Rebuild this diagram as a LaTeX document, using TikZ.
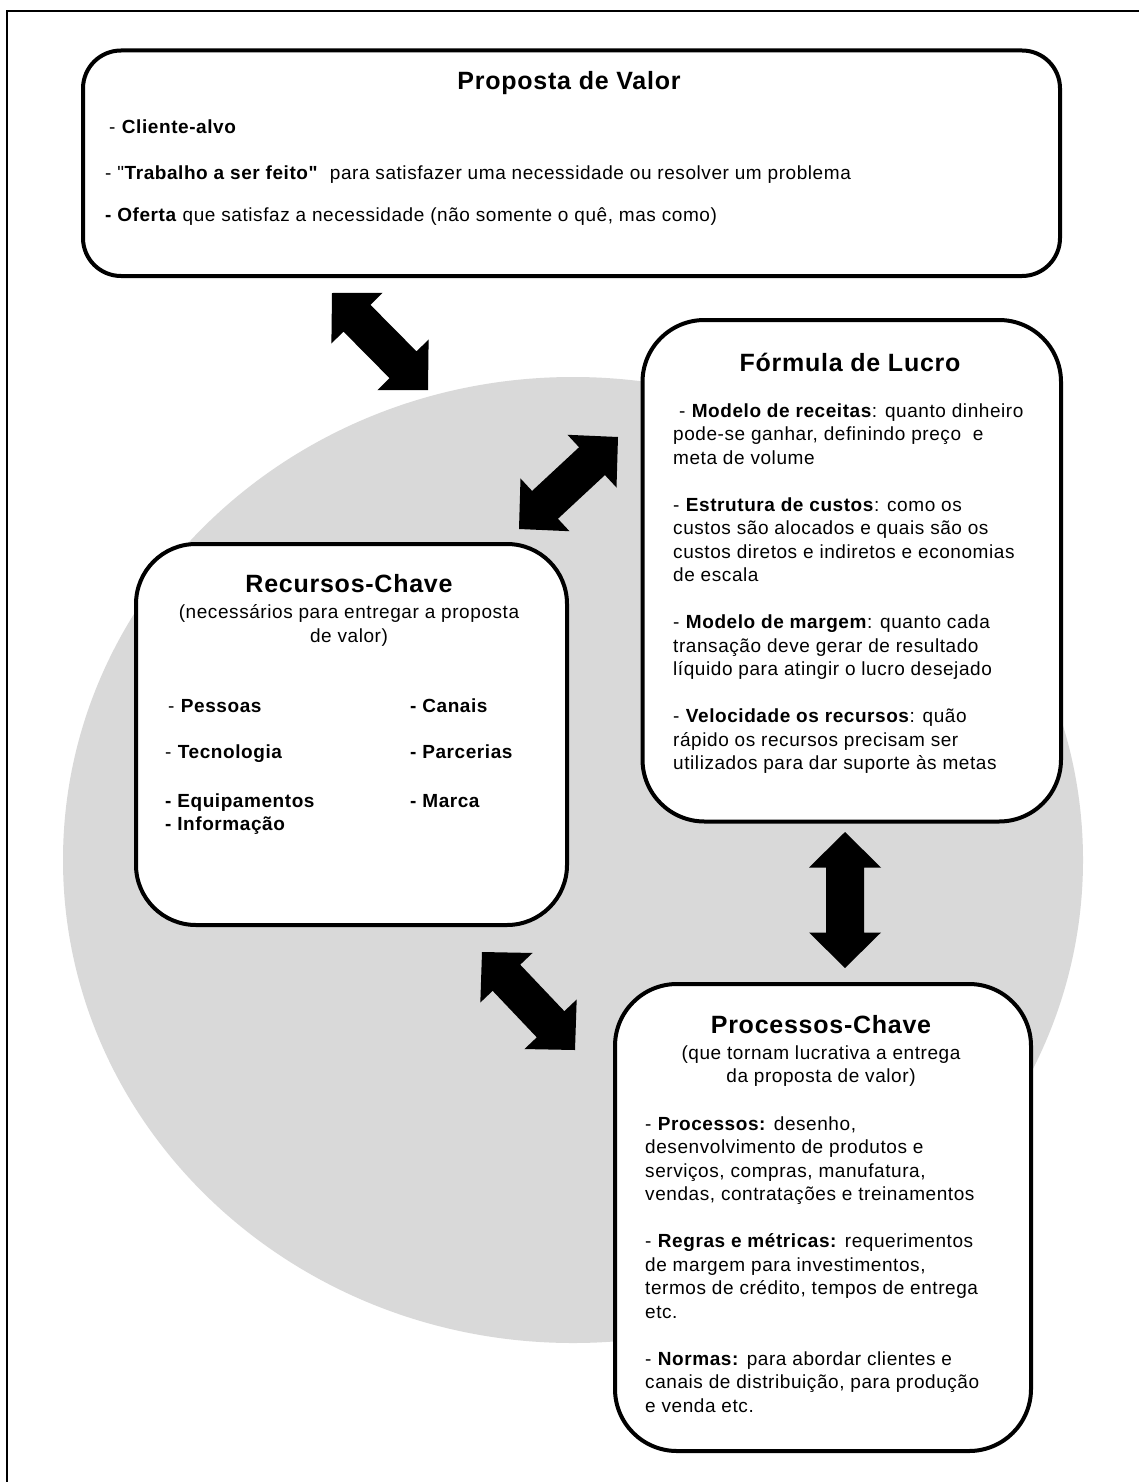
\documentclass[tikz,border=0pt]{standalone}
\usepackage{fontspec}
\setmainfont{Liberation Sans}[LetterSpace=3.0, Ligatures=TeXOff]
\usetikzlibrary{calc,shapes.geometric}

\newcommand\bodyfont{\fontsize{19pt}{23.5pt}\selectfont}
\newcommand\headfont{\fontsize{25pt}{30pt}\selectfont\bfseries}
\newcommand\leftlines[1]{\begin{tabular}[t]{@{}l@{}}#1\end{tabular}}
\newcommand\midlines[1]{\begin{tabular}[t]{@{}c@{}}#1\end{tabular}}

% double-headed block arrow between two named tips
\newcommand\blockarrow[2]{%
  \coordinate (ba1) at ($(#1)!35.5pt!(#2)$);
  \coordinate (ba2) at ($(#2)!35.5pt!(#1)$);
  \fill[arrowfill] (#1)
    -- ($(ba1)!36pt!90:(#2)$) -- ($(ba1)!19pt!90:(#2)$)
    -- ($(ba2)!19pt!-90:(#1)$) -- ($(ba2)!36pt!-90:(#1)$)
    -- (#2)
    -- ($(ba2)!36pt!90:(#1)$) -- ($(ba2)!19pt!90:(#1)$)
    -- ($(ba1)!19pt!-90:(#2)$) -- ($(ba1)!36pt!-90:(#2)$)
    -- cycle;}

\tikzset{
  panel/.style={draw=black, line width=4pt, fill=white, rounded corners=#1,
    inner sep=0pt, anchor=north west},
  core/.style={ellipse, fill=discgray, draw=none, inner sep=0pt},
  arrowfill/.style={fill=black},
  body/.style={inner sep=0pt, anchor=base west, font=\bodyfont},
  head/.style={inner sep=0pt, anchor=base, font=\headfont},
  sub/.style={inner sep=0pt, anchor=base, font=\bodyfont},
}
\definecolor{discgray}{RGB}{217,217,217}

\begin{document}
\begin{tikzpicture}[x=1pt, y=-1pt]
\useasboundingbox (0,0) rectangle (1139,1482);
\fill[white] (0,0) rectangle (1139,1482);

% page frame (top and left edges)
\draw[line width=2.3pt] (7,1490) -- (7,11) -- (1150,11);

% grey disc behind the three lower panels
\node[core, minimum width=1020pt, minimum height=966pt] (disc) at (573,860) {};

% panels
\node[panel=38pt, minimum width=977pt, minimum height=225.5pt] (pv) at (81,48.5) {};
\node[panel=62pt, minimum width=418.5pt, minimum height=501.5pt] (fl) at (640.5,318) {};
\node[panel=60pt, minimum width=431pt, minimum height=381pt] (rc) at (134,542) {};
\node[panel=62pt, minimum width=416pt, minimum height=467pt] (pc) at (613,982) {};

% arrow tips
\coordinate (a1s) at (332,293);
\coordinate (a1e) at (428,390);
\coordinate (a2s) at (519,529);
\coordinate (a2e) at (618,437);
\coordinate (a3s) at (845,832);
\coordinate (a3e) at (845,968);
\coordinate (a4s) at (482,952);
\coordinate (a4e) at (575,1050);
\blockarrow{a1s}{a1e}
\blockarrow{a2s}{a2e}
\blockarrow{a3s}{a3e}
\blockarrow{a4s}{a4e}

% Proposta de Valor
\node[head] (pvT) at (569,90) {Proposta de Valor};
\node[body] (pv1) at (109,134) {- \textbf{Cliente-alvo}};
\node[body] (pv2) at (105,180) {- "\textbf{Trabalho a ser feito"}\ \ para satisfazer uma necessidade ou resolver um problema};
\node[body] (pv3) at (105,222) {\textbf{- Oferta} que satisfaz a necessidade (não somente o quê, mas como)};

% Fórmula de Lucro
\node[head] (flT) at (850,371) {Fórmula de Lucro};
\node[body] (fl1) at (673,417) {\leftlines{%
 \ - \textbf{Modelo de receitas}: quanto dinheiro\\
 pode-se ganhar, definindo preço\ \ e\\
 meta de volume\\[23.5pt]
 - \textbf{Estrutura de custos}: como os\\
 custos são alocados e quais são os\\
 custos diretos e indiretos e economias\\
 de escala\\[23.5pt]
 - \textbf{Modelo de margem}: quanto cada\\
 transação deve gerar de resultado\\
 líquido para atingir o lucro desejado\\[23.5pt]
 - \textbf{Velocidade os recursos}: quão\\
 rápido os recursos precisam ser\\
 utilizados para dar suporte às metas}};

% Recursos-Chave
\node[head] (rcT) at (349,592) {Recursos-Chave};
\node[sub] (rcS) at (349,618) {\fontsize{19pt}{24.5pt}\selectfont
  \midlines{(necessários para entregar a proposta\\ de valor)}};
\node[body] (rcA) at (168,712) {- \textbf{Pessoas}};
\node[body] (rcB) at (165,758) {- \textbf{Tecnologia}};
\node[body] (rcC) at (165,807) {\textbf{- Equipamentos}};
\node[body] (rcD) at (165,830) {\textbf{- Informação}};
\node[body] (rcE) at (410,712) {\textbf{- Canais}};
\node[body] (rcF) at (410,758) {\textbf{- Parcerias}};
\node[body] (rcG) at (410,807) {\textbf{- Marca}};

% Processos-Chave
\node[head] (pcT) at (821,1033) {Processos-Chave};
\node[sub] (pcS) at (821,1059) {\fontsize{19pt}{23pt}\selectfont
  \midlines{(que tornam lucrativa a entrega\\ da proposta de valor)}};
\node[body] (pc1) at (645,1130) {\leftlines{%
 - \textbf{Processos:} desenho,\\
 desenvolvimento de produtos e\\
 serviços, compras, manufatura,\\
 vendas, contratações e treinamentos\\[23.5pt]
 - \textbf{Regras e métricas:} requerimentos\\
 de margem para investimentos,\\
 termos de crédito, tempos de entrega\\
 etc.\\[23.5pt]
 - \textbf{Normas:} para abordar clientes e\\
 canais de distribuição, para produção\\
 e venda etc.}};
\end{tikzpicture}
\end{document}
